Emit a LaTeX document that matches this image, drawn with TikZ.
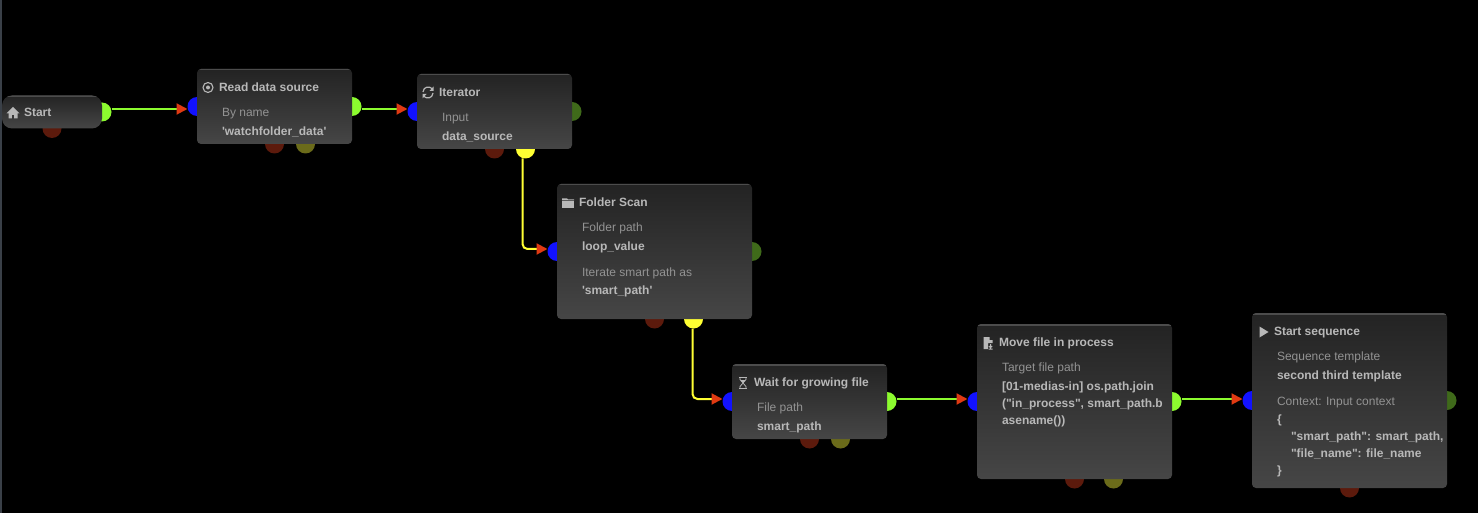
\documentclass[tikz,border=0pt]{standalone}
\usepackage{fontspec}
\newfontfamily\flowfont{Liberation Sans}
\usetikzlibrary{arrows.meta,positioning,backgrounds}
\definecolor{boxtop}{HTML}{232323}
\definecolor{boxbot}{HTML}{464646}
\definecolor{boxedge}{HTML}{4C4C4C}
\definecolor{titlecol}{HTML}{B8B8B8}
\definecolor{labelcol}{HTML}{939393}
\definecolor{tipred}{HTML}{E03A12}
\definecolor{bluein}{HTML}{1212FF}
\definecolor{greenout}{HTML}{8CFB2F}
\definecolor{greendark}{HTML}{3F6A1A}
\definecolor{reddark}{HTML}{5C1A0C}
\definecolor{olivedark}{HTML}{6B6B1A}
\definecolor{yellowout}{HTML}{FFFF33}
\definecolor{sidebar}{HTML}{3A4048}
\tikzset{
  flowbox/.style={rectangle,rounded corners=4pt,inner sep=0pt,outer sep=0pt,minimum width=155pt,
    top color=boxtop,bottom color=boxbot,
    path picture={\draw[boxedge,line width=3pt] (path picture bounding box.north west) -- (path picture bounding box.north east);}},
  widebox/.style={flowbox,minimum width=195pt},
  startbox/.style={flowbox,rounded corners=10pt,minimum width=100pt,minimum height=33pt},
  port/.style={circle,inner sep=0pt,outer sep=0pt,minimum size=19pt},
  inport/.style={port,fill=bluein},
  outport/.style={port,fill=greenout},
  endport/.style={port,fill=greendark},
  errport/.style={port,fill=reddark},
  auxport/.style={port,fill=olivedark},
  loopport/.style={port,fill=yellowout},
  txt/.style={inner sep=0pt,outer sep=0pt,text height=9pt,text depth=3pt,anchor=west},
  titletxt/.style={txt,font=\flowfont\bfseries\fontsize{12}{14}\selectfont,text=titlecol},
  labeltxt/.style={txt,font=\flowfont\fontsize{12}{14}\selectfont,text=labelcol},
  valuetxt/.style={titletxt},
  arr/.style={line width=2pt,-{Triangle[length=11pt,width=11pt,color=tipred]}},
  garr/.style={arr,greenout},
  yarr/.style={arr,yellowout,rounded corners=5pt},
  homeicon/.pic={
    \fill[titlecol] (-6.5,0.5) -- (0,-6) -- (6.5,0.5) -- cycle;
    \fill[titlecol] (-4.5,0) rectangle (-1.2,5.5) (1.2,0) rectangle (4.5,5.5) (-1.5,0) rectangle (1.5,2);},
  targeticon/.pic={
    \draw[titlecol,line width=1.1pt] (0,0) circle (5pt);
    \fill[titlecol] (0,0) circle (2pt);},
  syncicon/.pic={
    \draw[titlecol,line width=1.2pt] (-5,-0.5) .. controls (-4.5,-6.5) and (2,-6.5) .. (4.5,-3.5);
    \draw[titlecol,line width=1.2pt] (5,0.5) .. controls (4.5,6.5) and (-2,6.5) .. (-4.5,3.5);
    \fill[titlecol] (5.5,-6) -- (5.5,-1.5) -- (1.5,-1.5) -- cycle;
    \fill[titlecol] (-5.5,6) -- (-5.5,1.5) -- (-1.5,1.5) -- cycle;},
  foldericon/.pic={
    \fill[titlecol] (-6,-5) -- (-1,-5) -- (0,-4) -- (6,-4) -- (6,-3) -- (-6,-3) -- cycle;
    \fill[titlecol] (-6,-2) rectangle (6,5);},
  hourglassicon/.pic={
    \draw[titlecol,line width=1pt] (-4,-5.5) -- (4,-5.5) (-4,5.5) -- (4,5.5);
    \draw[titlecol,line width=0.8pt] (-3,-5.5) -- (-3,-3.5) -- (3,3.5) -- (3,5.5) (3,-5.5) -- (3,-3.5) -- (-3,3.5) -- (-3,5.5);
    \fill[titlecol] (-2.5,-3) -- (2.5,-3) -- (0,0) -- cycle;},
  fileicon/.pic={
    \fill[titlecol] (-4.5,-6) -- (1.5,-6) -- (1.5,-3) -- (4.5,-3) -- (4.5,0) -- (0,0) -- (0,6) -- (-4.5,6) -- cycle;
    \draw[titlecol,line width=1pt] (2.5,1) -- (2.5,4.5) (0.8,3) -- (2.5,4.8) -- (4.2,3) (0.5,6) -- (4.5,6);},
  playicon/.pic={
    \fill[titlecol] (-4.5,-5.5) -- (4.5,0) -- (-4.5,5.5) -- cycle;}
}

\begin{document}
\begin{tikzpicture}[x=1pt,y=-1pt]
  \useasboundingbox (0,0) rectangle (1478,513);
  \begin{scope}[on background layer]
    \fill[black] (0,0) rectangle (1478,513);
    \fill[sidebar] (0,0) rectangle (2,513);
  \end{scope}

  % boxes
  \node[startbox,anchor=west] (start) at (2,112) {};
  \node[flowbox,minimum height=75pt,right=95pt of start,yshift=5.5pt] (read) {};
  \node[flowbox,minimum height=75pt,right=65pt of read,yshift=-5pt] (iterator) {};
  \node[widebox,minimum height=135pt,below right=35pt and -15pt of iterator] (folder) {};
  \node[flowbox,minimum height=75pt,below right=45pt and -20pt of folder] (wait) {};
  \node[widebox,minimum height=155pt,right=90pt of wait] (move) {};
  \node[widebox,minimum height=175pt,right=80pt of move,yshift=1pt] (seq) {};

  % ports go behind the boxes
  \begin{scope}[on background layer]
    \foreach \b in {read,iterator,folder,wait,move,seq}
      \node[inport] (\b-in) at (\b.west) {};
    \foreach \b in {start,read,wait,move}
      \node[outport] (\b-out) at (\b.east) {};
    \foreach \b in {iterator,folder,seq}
      \node[endport] (\b-out) at (\b.east) {};
    \foreach \b in {start,read,iterator,folder,wait,move,seq}
      \node[errport] (\b-err) at (\b.south) {};
    \foreach \b/\d in {read/31,wait/31,move/39}
      \node[auxport] (\b-aux) at ([xshift=\d pt]\b.south) {};
    \node[loopport] (iterator-loop) at ([xshift=31pt]iterator.south) {};
    \node[loopport] (folder-loop) at ([xshift=39pt]folder.south) {};
  \end{scope}

  % connectors
  \draw[garr] ([yshift=3pt]start-out.east) -- ([yshift=-2.5pt]read-in.west);
  \draw[garr] ([yshift=-2.5pt]read-out.east) -- ([yshift=2.5pt]iterator-in.west);
  \draw[yarr] ([xshift=-3pt]iterator-loop.south) |- ([yshift=2.5pt]folder-in.west);
  \draw[yarr] ([xshift=-1pt]folder-loop.south) |- ([yshift=2.5pt]wait-in.west);
  \draw[garr] ([yshift=2.5pt]wait-out.east) -- ([yshift=2.5pt]move-in.west);
  \draw[garr] ([yshift=2.5pt]move-out.east) -- ([yshift=1.5pt]seq-in.west);

  % texts
  \node[titletxt,right=22pt of start.west,yshift=-2pt] (starttitle) {Start};

  \node[titletxt,below right=13.5pt and 22pt of read.north west] (readtitle) {Read data source};
  \node[labeltxt,below right=13pt and 3pt of readtitle.south west] (readlabel) {By name};
  \node[valuetxt,below right=7pt and 0pt of readlabel.south west] (readvalue) {'watchfolder\_data'};

  \node[titletxt,below right=13.5pt and 22pt of iterator.north west] (itertitle) {Iterator};
  \node[labeltxt,below right=13pt and 3pt of itertitle.south west] (iterlabel) {Input};
  \node[valuetxt,below right=7pt and 0pt of iterlabel.south west] (itervalue) {data\_source};

  \node[titletxt,below right=13.5pt and 22pt of folder.north west] (foldertitle) {Folder Scan};
  \node[labeltxt,below right=13pt and 3pt of foldertitle.south west] (folderlabel) {Folder path};
  \node[valuetxt,below right=7pt and 0pt of folderlabel.south west] (foldervalue) {loop\_value};
  \node[labeltxt,below right=14pt and 0pt of foldervalue.south west] (smartlabel) {Iterate smart path as};
  \node[valuetxt,below right=6pt and 0pt of smartlabel.south west] (smartvalue) {'smart\_path'};

  \node[titletxt,below right=13pt and 22pt of wait.north west] (waittitle) {Wait for growing file};
  \node[labeltxt,below right=13pt and 3pt of waittitle.south west] (waitlabel) {File path};
  \node[valuetxt,below right=7pt and 0pt of waitlabel.south west] (waitvalue) {smart\_path};

  \node[titletxt,below right=13pt and 22pt of move.north west] (movetitle) {Move file in process};
  \node[labeltxt,below right=13pt and 3pt of movetitle.south west] (movelabel) {Target file path};
  \node[valuetxt,below right=7pt and 0pt of movelabel.south west] (movea) {[01-medias-in] os.path.join};
  \node[valuetxt,below right=5pt and 0pt of movea.south west] (moveb) {("in\_process", smart\_path.b};
  \node[valuetxt,below right=5pt and 0pt of moveb.south west] (movec) {asename())};

  \node[titletxt,below right=13pt and 22pt of seq.north west] (seqtitle) {Start sequence};
  \node[labeltxt,below right=13pt and 3pt of seqtitle.south west] (seqlabel) {Sequence template};
  \node[valuetxt,below right=7pt and 0pt of seqlabel.south west] (seqvalue) {second third template};
  \node[labeltxt,below right=14pt and 0pt of seqvalue.south west] (ctxlabel) {Context: Input context};
  \node[valuetxt,below right=6pt and 0pt of ctxlabel.south west] (ctxa) {\{};
  \node[valuetxt,below right=5pt and 14pt of ctxa.south west] (ctxb) {"smart\_path": smart\_path,};
  \node[valuetxt,below right=5pt and 0pt of ctxb.south west] (ctxc) {"file\_name": file\_name};
  \node[valuetxt,below right=5pt and -14pt of ctxc.south west] (ctxd) {\}};

  % icons
  \pic at ([xshift=-11pt,yshift=1pt]starttitle.west) {homeicon};
  \pic at ([xshift=-11pt,yshift=1pt]readtitle.west) {targeticon};
  \pic at ([xshift=-11pt,yshift=1pt]itertitle.west) {syncicon};
  \pic at ([xshift=-11pt]foldertitle.west) {foldericon};
  \pic at ([xshift=-11pt]waittitle.west) {hourglassicon};
  \pic at ([xshift=-11pt]movetitle.west) {fileicon};
  \pic at ([xshift=-10pt]seqtitle.west) {playicon};
\end{tikzpicture}
\end{document}
